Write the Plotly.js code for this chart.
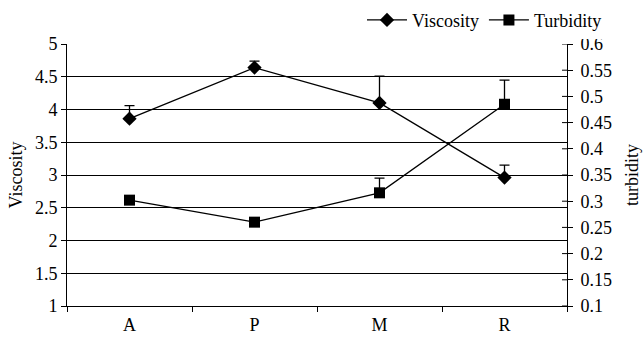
<!DOCTYPE html>
<html><head><meta charset="utf-8">
<script src="https://cdn.plot.ly/plotly-3.0.1.min.js"></script>
<style>body{margin:0;background:#fff}#c{width:644px;height:338px}</style>
</head><body><div id="c"></div>
<script>
var categories = ["A", "P", "M", "R"];
var viscosity = [3.86, 4.64, 4.10, 2.96];
var viscosityErr = [0.20, 0.10, 0.41, 0.19];
var turbidity = [0.302, 0.26, 0.316, 0.485];
var turbidityErr = [0, 0, 0.028, 0.046];
var turbidityTicks = [0.1, 0.15, 0.2, 0.25, 0.3, 0.35, 0.4, 0.45, 0.5, 0.55, 0.6];

var font = {family: "Liberation Serif", size: 18, color: "#000"};
var traces = [
  {x: categories, y: viscosity, name: "Viscosity", type: "scatter", mode: "lines+markers",
   line: {color: "#000", width: 1.3}, marker: {symbol: "diamond", size: 11, color: "#000"},
   error_y: {type: "data", symmetric: false, array: viscosityErr, arrayminus: [0,0,0,0], color: "#000", thickness: 1.3, width: 5}},
  {x: categories, y: turbidity, name: "Turbidity", type: "scatter", mode: "lines+markers", yaxis: "y2",
   line: {color: "#000", width: 1.3}, marker: {symbol: "square", size: 11, color: "#000"},
   error_y: {type: "data", symmetric: false, array: turbidityErr, arrayminus: [0,0,0,0], color: "#000", thickness: 1.3, width: 5}}
];
// inner half of the crossing ticks on the right axis
var innerTicks = turbidityTicks.map(function(v){
  return {type: "line", xref: "paper", yref: "y2", x0: 0.99, x1: 1, y0: v, y1: v, line: {color: "#000", width: 1}};
});
var layout = {
  width: 644, height: 338, margin: {l: 67, r: 77, t: 44, b: 32, autoexpand: false},
  paper_bgcolor: "#fff", plot_bgcolor: "#fff", font: font, showlegend: true, shapes: innerTicks,
  legend: {orientation: "h", x: 1.08, xanchor: "right", y: 1.02, yanchor: "bottom", font: font, tracegroupgap: 0, itemwidth: 40},
  xaxis: {type: "category", range: [-0.5, 3.5], tickson: "boundaries", ticks: "outside", ticklen: 5, tickcolor: "#000",
    showline: true, linecolor: "#000", linewidth: 1, showgrid: false, zeroline: false, tickfont: font, ticklabelstandoff: 2},
  yaxis: {range: [1, 5], dtick: 0.5, ticks: "outside", ticklen: 5, tickcolor: "#000", showline: true, linecolor: "#000",
    showgrid: true, gridcolor: "#000", gridwidth: 1, zeroline: false, tickfont: font,
    title: {text: "Viscosity", font: font, standoff: 7}},
  yaxis2: {range: [0.1, 0.6], tickvals: turbidityTicks, overlaying: "y", side: "right",
    ticks: "outside", ticklen: 5, tickcolor: "#000", ticklabelstandoff: 4,
    showline: true, linecolor: "#000", showgrid: false, zeroline: false, tickfont: font,
    title: {text: "turbidity", font: font, standoff: 14}}
};
Plotly.newPlot("c", traces, layout, {displayModeBar: false});
</script></body></html>
